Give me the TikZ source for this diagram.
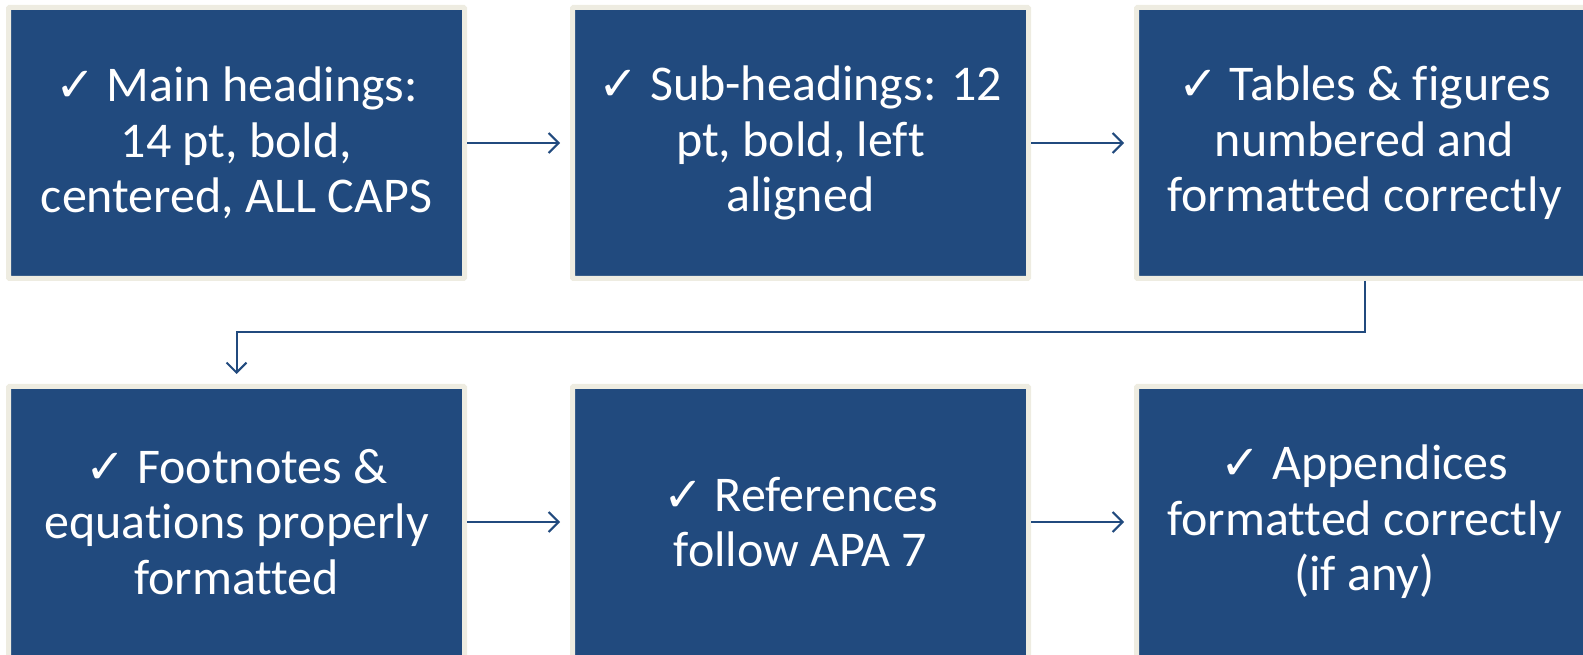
\documentclass[tikz,border=0pt]{standalone}
\usepackage{fontspec}
\setmainfont[Ligatures=NoCommon]{Carlito}
\newfontfamily\symfont{DejaVu Sans}
\usetikzlibrary{positioning,calc,arrows.meta}
\definecolor{boxblue}{HTML}{214A7E}
\definecolor{boxrim}{HTML}{EEECE1}
\newcommand{\checkmk}{{\symfont\fontsize{48}{48}\selectfont ✓}}
\tikzset{
  stepbox/.style={draw=boxrim, fill=boxblue, line width=5pt, rounded corners=1pt,
    minimum width=456pt, minimum height=271pt, align=center, text=white,
    font=\fontsize{50}{55.5}\selectfont},
  flow/.style={draw=boxblue, line width=2pt, shorten >=10pt,
    -{Straight Barb[length=10pt,width=20pt,line width=2pt]}}
}
\begin{document}
\begin{tikzpicture}[x=1pt,y=1pt]
  \useasboundingbox (0,0) rectangle (1583,654);
  \clip (0,0) rectangle (1583,654);
  % Top row of checks
  \node[stepbox] (main) at (236.5,511) {\checkmk{} Main headings:\\14 pt, bold,\\centered, ALL CAPS};
  \node[stepbox, right=103pt of main] (sub) {\checkmk{} Sub-headings: 12\\pt, bold, left\\aligned};
  \node[stepbox, right=103pt of sub] (tables) {\checkmk{} Tables \& figures\\numbered and\\formatted correctly};

  % Bottom row of checks
  \node[stepbox, below=103pt of main] (foot) {\checkmk{} Footnotes \&\\equations properly\\formatted};
  \node[stepbox, right=103pt of foot] (refs) {\checkmk{} References\\follow APA 7};
  \node[stepbox, right=103pt of refs] (appx) {\checkmk{} Appendices\\formatted correctly\\(if any)};

  % Connectors
  \foreach \a/\b in {main/sub, sub/tables, foot/refs, refs/appx} {
    \draw[flow] (\a.east) -- (\b.west); % Straight arrows
  }
  \coordinate (turn) at ($(tables.south)!0.5!(foot.north)$); % Elbow height
  \draw[flow] (tables.south) |- (turn) -| (foot.north); % Wrap to next row
\end{tikzpicture}
\end{document}
